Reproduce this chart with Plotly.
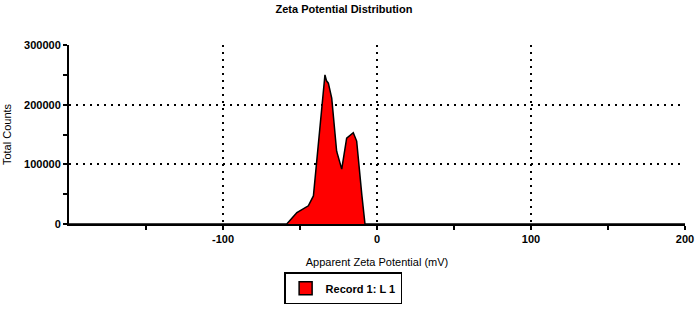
import plotly.graph_objects as go

zeta_mv = [-200, -60, -58.6, -52.0, -44.6, -41.3, -39.2, -35.9, -33.8, -32.8, -31.6, -29.4, -26.2,
           -22.9, -19.7, -15.4, -13.2, -9.9, -7.8, -6, 200]
counts = [0, 0, 0, 19300, 30500, 47000, 105000, 189000, 250000, 240000, 236000, 211000, 122000,
          92000, 144000, 153000, 139000, 50000, 0, 0, 0]

x_tickvals = [-100, 0, 100, 200]
x_ticktext = ["-100", "0", "100", "200"]
y_tickvals = [0, 100000, 200000, 300000]
y_ticktext = ["0", "100000", "200000", "300000"]

fnt = "Liberation Sans, Arial, sans-serif"

fig = go.Figure()
fig.add_trace(go.Scatter(
    x=zeta_mv, y=counts, mode="lines", fill="tozeroy",
    fillcolor="#ff0000", line=dict(color="black", width=1.5),
    name="Record 1: L 1", showlegend=False,
))
fig.add_trace(go.Scatter(
    x=[None], y=[None], mode="markers",
    marker=dict(symbol="square", size=13, color="#ff0000", line=dict(color="black", width=1.5)),
    name="Record 1: L 1", showlegend=True,
))

fig.update_layout(
    width=699, height=324,
    margin=dict(l=69, r=14, t=45, b=100, autoexpand=False),
    paper_bgcolor="white", plot_bgcolor="white",
    font=dict(family=fnt, size=11, color="black"),
    title=dict(text="Zeta Potential Distribution", x=0.492, xanchor="center", y=0.985, yanchor="top",
               font=dict(size=11, family=fnt, weight="bold")),
    legend=dict(orientation="h", x=0.445, xanchor="center", yref="container", y=0.11, yanchor="middle",
                bordercolor="black", borderwidth=1.5, font=dict(size=11, family=fnt, weight="bold"),
                itemwidth=30, tracegroupgap=0),
    showlegend=True,
)
fig.update_xaxes(
    range=[-200, 200], tickmode="array", tickvals=x_tickvals, ticktext=x_ticktext,
    showgrid=True, gridcolor="black", griddash="2px,5px", gridwidth=1.5,
    showline=True, linecolor="black", linewidth=2, ticks="outside", ticklen=4, tickcolor="black", tickwidth=1.5,
    minor=dict(tickvals=[-150, -50, 50, 150], ticks="outside", ticklen=4, tickcolor="black", showgrid=False),
    zeroline=False, automargin=False, tickfont=dict(size=11, family=fnt, weight="bold"),
    title=dict(text="Apparent Zeta Potential (mV)", standoff=14, font=dict(size=11, family=fnt)),
)
fig.update_yaxes(
    range=[0, 300000], tickmode="array", tickvals=y_tickvals, ticktext=y_ticktext,
    showgrid=True, gridcolor="black", griddash="2px,5px", gridwidth=1.5,
    showline=True, linecolor="black", linewidth=2, ticks="outside", ticklen=4, tickcolor="black", tickwidth=1.5,
    minor=dict(tickvals=[50000, 150000, 250000], ticks="outside", ticklen=4, tickcolor="black", showgrid=False),
    zeroline=False, automargin=False, tickfont=dict(size=11, family=fnt, weight="bold"),
    title=dict(text="Total Counts", standoff=10, font=dict(size=11, family=fnt)),
)
fig.write_html("out.html", config={"displayModeBar": False},
               post_script="document.body.style.margin='0';document.body.style.overflow='hidden';")
